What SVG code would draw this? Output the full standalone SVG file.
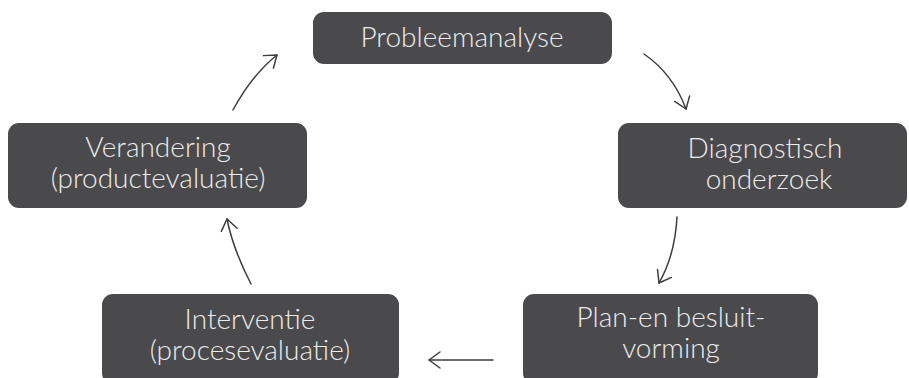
<svg xmlns="http://www.w3.org/2000/svg" width="909" height="378" viewBox="0 0 909 378">
<style>
.box{fill:#4a4a4c;}
.t{fill:#ececec;font-family:"Lato","Open Sans","Liberation Sans",sans-serif;font-weight:300;font-size:28px;text-anchor:middle;}
.c{fill:none;stroke:#3c3c3c;stroke-width:1.5;stroke-linecap:round;}
</style>
<defs>
<marker id="ah" markerUnits="userSpaceOnUse" markerWidth="30" markerHeight="30" refX="0" refY="0" viewBox="-15 -15 30 30" orient="auto" overflow="visible">
<path d="M-11,-8 L0,0 L-11,8" fill="none" stroke="#3c3c3c" stroke-width="1.5" stroke-linecap="round" stroke-linejoin="round"/>
</marker>
</defs>
<rect width="909" height="378" fill="#ffffff"/>
<g id="connectors">
<path class="c" d="M644,54 Q673,74 686,109" marker-end="url(#ah)"/>
<path class="c" d="M677,217 Q675,255 659,283" marker-end="url(#ah)"/>
<path class="c" d="M493,360 L429,360" marker-end="url(#ah)"/>
<path class="c" d="M251,284 Q233,249 227,219" marker-end="url(#ah)"/>
<path class="c" d="M233,110 Q252,75 277,55" marker-end="url(#ah)"/>
</g>
<g id="n1">
<rect class="box" x="313" y="12" width="299" height="52" rx="11"/>
<text class="t" x="462" y="47">Probleemanalyse</text>
</g>
<g id="n2">
<rect class="box" x="618" y="123" width="289" height="85" rx="11"/>
<text class="t" x="765" y="158">Diagnostisch</text>
<text class="t" x="769" y="189">onderzoek</text>
</g>
<g id="n3">
<rect class="box" x="523" y="294" width="295" height="90" rx="11"/>
<text class="t" x="671" y="327">Plan-en besluit-</text>
<text class="t" x="671" y="358">vorming</text>
</g>
<g id="n4">
<rect class="box" x="102" y="294" width="297" height="90" rx="11"/>
<text class="t" x="250" y="329">Interventie</text>
<text class="t" x="250" y="360">(procesevaluatie)</text>
</g>
<g id="n5">
<rect class="box" x="8" y="123" width="299" height="85" rx="11"/>
<text class="t" x="158" y="157">Verandering</text>
<text class="t" x="158" y="188">(productevaluatie)</text>
</g>
</svg>
